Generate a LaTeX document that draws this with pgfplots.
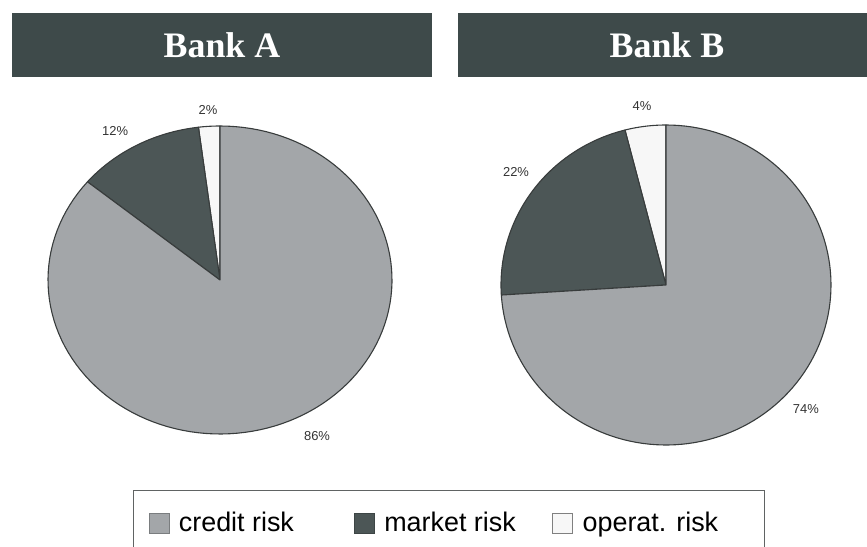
\documentclass[border=0pt]{standalone}
\usepackage{fontspec}
\setmainfont{Liberation Serif}
\newfontfamily\sansf{Liberation Sans}
\usepackage{pgfplots}
\usepackage{pgfplotstable}
\pgfplotsset{compat=1.18}
\definecolor{creditcol}{HTML}{A3A6A9}
\definecolor{marketcol}{HTML}{4C5656}
\definecolor{operatcol}{HTML}{F7F7F7}
\definecolor{edgecol}{HTML}{383C3C}
\definecolor{titlecol}{HTML}{3E4A4A}

\pgfplotstableread{
bank credit market operat
A    86     12     2
B    74     22     4
}\riskdata

% start angles (counterclockwise from the top: operat., market, credit)
\pgfplotstablegetelem{0}{operat}\of\riskdata \pgfmathsetmacro\AopEnd{90+3.6*\pgfplotsretval}
\pgfplotstablegetelem{0}{market}\of\riskdata \pgfmathsetmacro\AmkEnd{\AopEnd+3.6*\pgfplotsretval}
\pgfplotstablegetelem{1}{operat}\of\riskdata \pgfmathsetmacro\BopEnd{90+3.6*\pgfplotsretval}
\pgfplotstablegetelem{1}{market}\of\riskdata \pgfmathsetmacro\BmkEnd{\BopEnd+3.6*\pgfplotsretval}

\pgfplotsset{
  pieaxis/.style={scale only axis, hide axis, clip=false, anchor=center,
    xmin=-1, xmax=1, ymin=-1, ymax=1},
  sector/.style={draw=edgecol, line width=1.1bp, line join=round, samples=120, variable=\t, forget plot},
}
\newcommand\lblfont{\sansf\fontsize{13}{15}\selectfont}

\begin{document}
\begin{tikzpicture}[x=1bp, y=1bp]
\useasboundingbox (0,0) rectangle (867bp,547bp);
\fill[titlecol] (12bp,470bp) rectangle (432bp,534bp);
\fill[titlecol] (458bp,470bp) rectangle (867bp,534bp);
\node[text=white, font=\bfseries\fontsize{36}{40}\selectfont] at (222bp,502bp) {Bank A};
\node[text=white, font=\bfseries\fontsize{36}{40}\selectfont] at (667bp,502bp) {Bank B};

\begin{axis}[pieaxis, at={(220bp,267bp)}, width=344bp, height=308bp,
  legend image code/.code={\draw[#1] (0bp,-10bp) rectangle (20bp,10bp); \path[draw=none, fill=none] (0bp,0bp) rectangle (28bp,0.1bp);},
  legend columns=3,
  legend style={at={(0.2471,-0.1818)}, anchor=north west, draw=edgecol!80, line width=1bp,
    fill=white, inner xsep=15bp, inner ysep=20bp,
    font=\sansf\fontsize{27}{30}\selectfont},
  legend cell align=left]
  \addlegendimage{fill=creditcol, draw=creditcol!75!black, line width=0.8bp}
  \addlegendentry{\makebox[173bp][l]{credit risk}}
  \addlegendimage{fill=marketcol, draw=marketcol!80!black, line width=0.8bp}
  \addlegendentry{\makebox[166bp][l]{market risk}}
  \addlegendimage{fill=operatcol, draw=gray, line width=0.8bp}
  \addlegendentry{\makebox[165bp][l]{operat. risk}}
  \addplot[sector, fill=operatcol, domain=90:\AopEnd] ({cos(\t)},{sin(\t)}) -- (axis cs:0,0) -- cycle;
  \addplot[sector, fill=marketcol, domain=\AopEnd:\AmkEnd] ({cos(\t)},{sin(\t)}) -- (axis cs:0,0) -- cycle;
  \addplot[sector, fill=creditcol, domain=\AmkEnd:450] ({cos(\t)},{sin(\t)}) -- (axis cs:0,0) -- cycle;
  \node[font=\lblfont, text=black!80] at (axis cs:-0.610,0.968) {12\%};
  \node[font=\lblfont, text=black!80] at (axis cs:-0.070,1.104) {2\%};
  \node[font=\lblfont, text=black!80] at (axis cs:0.564,-1.013) {86\%};
\end{axis}

\begin{axis}[pieaxis, at={(666bp,262bp)}, width=330bp, height=320bp]
  \addplot[sector, fill=operatcol, domain=90:\BopEnd] ({cos(\t)},{sin(\t)}) -- (axis cs:0,0) -- cycle;
  \addplot[sector, fill=marketcol, domain=\BopEnd:\BmkEnd] ({cos(\t)},{sin(\t)}) -- (axis cs:0,0) -- cycle;
  \addplot[sector, fill=creditcol, domain=\BmkEnd:450] ({cos(\t)},{sin(\t)}) -- (axis cs:0,0) -- cycle;
  \node[font=\lblfont, text=black!80] at (axis cs:-0.909,0.706) {22\%};
  \node[font=\lblfont, text=black!80] at (axis cs:-0.145,1.119) {4\%};
  \node[font=\lblfont, text=black!80] at (axis cs:0.848,-0.775) {74\%};
\end{axis}
\end{tikzpicture}
\end{document}
